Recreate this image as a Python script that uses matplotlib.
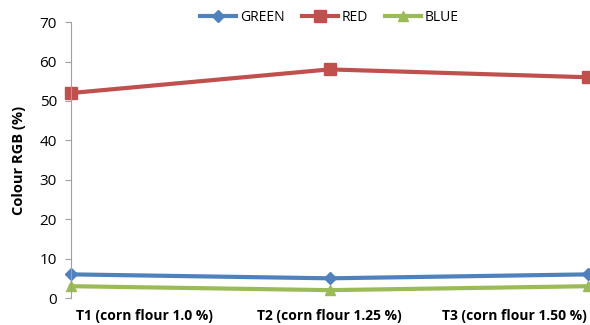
import matplotlib.pyplot as plt

plt.rcParams['font.family'] = ['Open Sans', 'DejaVu Sans']

treatments = ['T1 (corn flour 1.0 %)', 'T2 (corn flour 1.25 %)', 'T3 (corn flour 1.50 %)']
green = [6, 5, 6]
red = [52, 58, 56]
blue = [3, 2, 3]

x = list(range(len(treatments)))

fig = plt.figure(figsize=(5.9, 3.25), dpi=100)
ax = fig.add_axes([0.12, 0.083, 0.877, 0.849])

ax.plot(x, green, color='#4F81BD', marker='D', markersize=6, linewidth=3,
        label='GREEN', clip_on=False)
ax.plot(x, red, color='#C0504D', marker='s', markersize=8, linewidth=3,
        label='RED', clip_on=False)
ax.plot(x, blue, color='#9BBB59', marker='^', markersize=7, linewidth=3,
        label='BLUE', clip_on=False)

ax.set_xlim(0, 2)
ax.set_ylim(0, 70)
ax.set_yticks(range(0, 71, 10))
ax.tick_params(axis='y', labelsize=11, length=4, color='#A0A0A0', pad=6)

# category labels sit left of the data points
ax.set_xticks([0.285, 1.0, 1.715])
ax.set_xticklabels(treatments, fontsize=10, fontweight='bold')
ax.tick_params(axis='x', length=0, pad=8)

for s in ['top', 'right', 'bottom']:
    ax.spines[s].set_visible(False)
ax.spines['left'].set_color('#A0A0A0')

ax.set_ylabel('Colour RGB (%)', fontsize=10.5, fontweight='bold', labelpad=10)

ax.legend(loc='upper center', bbox_to_anchor=(0.5, 1.09), ncol=3, frameon=False,
          fontsize=10, handlelength=2.6, columnspacing=1.2, handletextpad=0.3)

fig.savefig('out.png', dpi=100)
